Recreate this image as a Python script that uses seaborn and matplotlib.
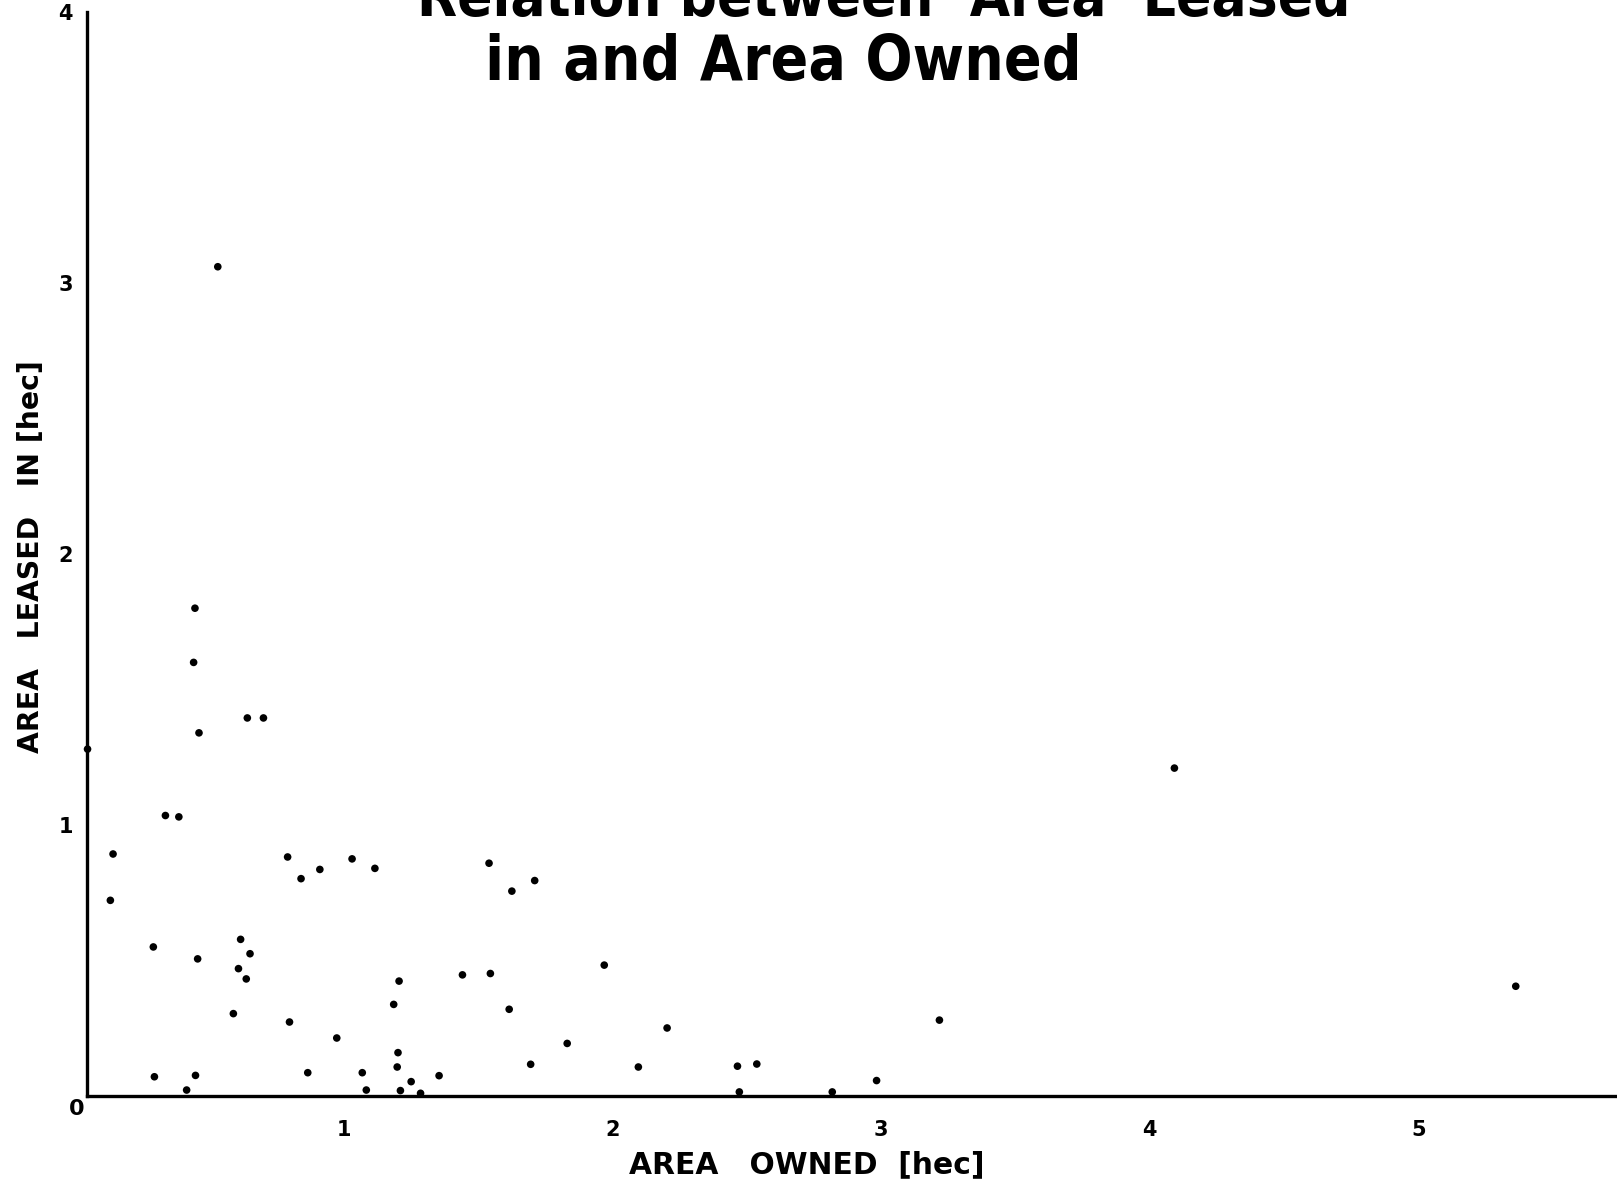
import numpy as np
import pandas as pd
import matplotlib
matplotlib.use("Agg")
import matplotlib.pyplot as plt
from matplotlib import font_manager
import seaborn as sns

# Area owned and area leased in per household, hectares
owned = [0.53, 0.445, 0.44, 0.46, 0.64, 0.70, 0.045, 0.335, 0.385, 0.14,
         0.13, 0.79, 0.84, 0.91, 1.03, 1.115, 1.54, 1.625, 1.71, 0.29,
         0.455, 0.615, 0.65, 0.607, 0.636, 0.588, 0.797, 0.973, 1.205, 1.185,
         1.441, 1.545, 1.615, 1.969, 2.203, 1.831, 1.201, 1.198, 0.294, 0.447,
         0.414, 0.865, 1.068, 1.083, 1.21, 1.25, 1.285, 1.354, 1.695, 2.096,
         2.465, 2.537, 2.472, 2.818, 2.983, 3.217, 4.092, 5.363]
leased = [3.06, 1.80, 1.60, 1.34, 1.395, 1.395, 1.28, 1.035, 1.03, 0.893,
          0.722, 0.882, 0.802, 0.836, 0.875, 0.84, 0.859, 0.756, 0.795, 0.55,
          0.506, 0.578, 0.525, 0.47, 0.432, 0.304, 0.273, 0.214, 0.424, 0.338,
          0.447, 0.452, 0.32, 0.483, 0.251, 0.194, 0.16, 0.107, 0.071, 0.076,
          0.022, 0.086, 0.086, 0.022, 0.02, 0.053, 0.01, 0.075, 0.117, 0.107,
          0.11, 0.118, 0.015, 0.015, 0.057, 0.28, 1.21, 0.405]

x_ticks = [1, 2, 3, 4, 5]
y_ticks = [1, 2, 3, 4]
title_lines = ["Relation between  Area  Leased", "in and Area Owned"]
x_label = "AREA   OWNED  [hec]"
y_label = "AREA   LEASED   IN [hec]"

df = pd.DataFrame({"owned": owned, "leased": leased})

sns.set_style("white")
plt.rcParams["font.family"] = ["DejaVu Sans"]
plt.rcParams["text.color"] = "black"

# pick a narrow face for the lettering if one is available
fonts = font_manager.fontManager.ttflist
names = {f.name for f in fonts}
if "Liberation Sans Narrow" in names:
    title_font = dict(family="Liberation Sans Narrow", stretch="normal")
elif any(f.name == "DejaVu Sans" and f.stretch == "condensed" for f in fonts):
    title_font = dict(family="DejaVu Sans", stretch="condensed")
else:
    title_font = dict(family="DejaVu Sans", stretch="normal")

W, H = 1617, 1183
fig = plt.figure(figsize=(W / 100, H / 100), dpi=100)
fig.patch.set_facecolor("white")

ax = fig.add_axes([87 / W, (H - 1096) / H, 1 - 87 / W, (1096 - 12) / H])
sns.scatterplot(data=df, x="owned", y="leased", ax=ax, color="black",
                s=30, edgecolor="none", linewidth=0, legend=False,
                clip_on=False, zorder=3)

ax.set_xlim(0.043, 5.74)
ax.set_ylim(0, 4)
ax.set_xticks(x_ticks)
ax.set_yticks(y_ticks)
ax.set_xticklabels([str(t) for t in x_ticks])
ax.set_yticklabels([str(t) for t in y_ticks])
ax.set_xlabel("")
ax.set_ylabel("")
for side in ("top", "right"):
    ax.spines[side].set_visible(False)
for side in ("left", "bottom"):
    ax.spines[side].set_linewidth(2.4)
    ax.spines[side].set_color("black")
ax.tick_params(axis="x", direction="out", length=9, width=1.6,
               pad=8, labelsize=15, colors="black")
ax.tick_params(axis="y", direction="out", length=6, width=1.6,
               pad=4, labelsize=15, colors="black")
for lab in ax.get_xticklabels() + ax.get_yticklabels():
    lab.set_fontweight("bold")
    lab.set_color("black")

renderer = fig.canvas.get_renderer()


def fit_width(txt, target_px):
    ext = txt.get_window_extent(renderer=renderer)
    size = txt.get_fontsize() * target_px / ext.width
    txt.set_fontsize(size)


# origin label
fig.text(77 / W, 1 - 1109 / H, "0", ha="center", va="center",
         fontsize=16, fontweight="bold", color="black")

# two-line title, first line running off the top edge
t1 = fig.text(884 / W, 1 - 16 / H, title_lines[0], ha="center",
              va="baseline", fontsize=40, fontweight="bold", color="black",
              **title_font)
fit_width(t1, 933)
t2 = fig.text(783 / W, 1 - 80 / H, title_lines[1], ha="center",
              va="baseline", fontsize=40, fontweight="bold", color="black",
              **title_font)
fit_width(t2, 596)

# axis titles
xl = fig.text(807 / W, 1 - 1165 / H, x_label, ha="center", va="center",
              fontsize=20, fontweight="semibold", color="black")
fit_width(xl, 355)
yl = fig.text(31 / W, 1 - 557 / H, y_label, ha="center", va="center",
              rotation=90, fontsize=20, fontweight="semibold", color="black")
ext = yl.get_window_extent(renderer=renderer)
yl.set_fontsize(yl.get_fontsize() * 392 / ext.height)

fig.savefig("out.png", dpi=100, facecolor="white")
